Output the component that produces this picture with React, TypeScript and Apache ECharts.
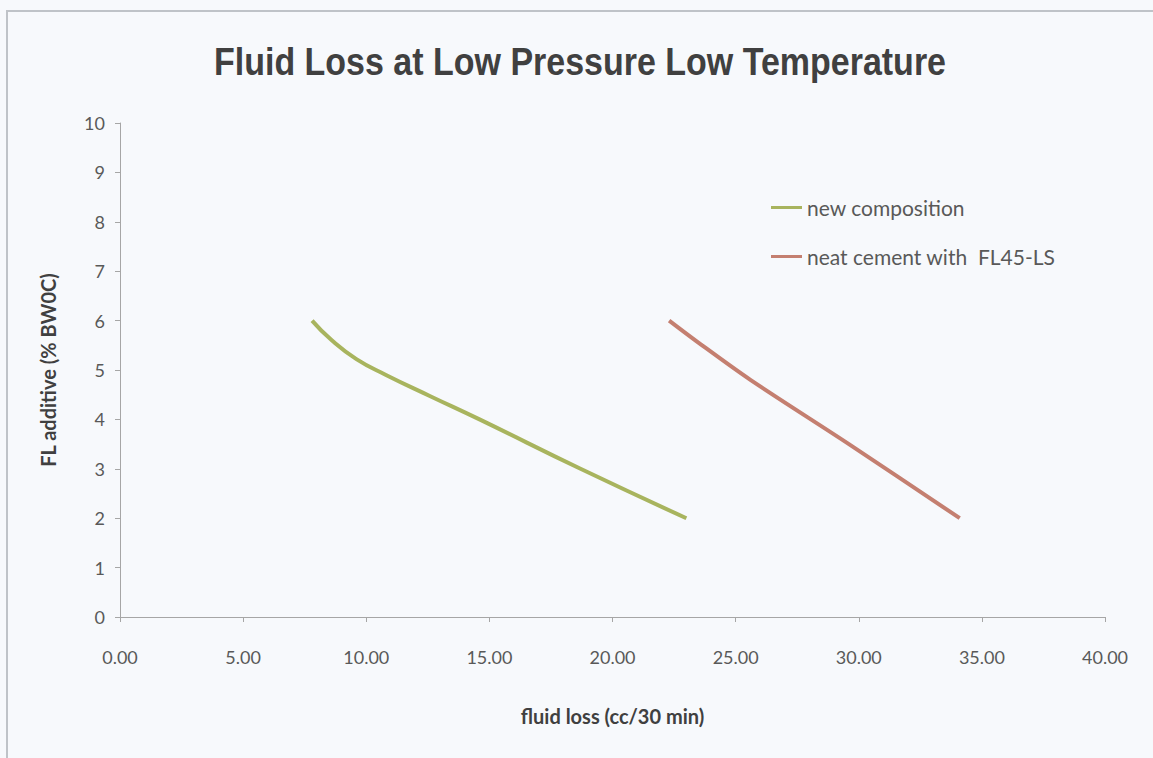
import React, { useEffect, useRef } from "react";
import * as echarts from "echarts";

const titleText = "Fluid Loss at Low Pressure Low Temperature";
const xAxisName = "fluid loss (cc/30 min)";
const yAxisName = "FL additive (% BW0C)";
const seriesNames = ["new composition", "neat cement with  FL45-LS"];
const newCompositionX = [7.8, 8.6, 9.6, 10.8, 12.6, 14.6, 18.7, 23.0];
const newCompositionY = [6, 5.6, 5.22, 4.9, 4.47, 4, 3, 2];
const neatCementX = [22.3, 23.5, 25.6, 29.6, 34.1];
const neatCementY = [6, 5.55, 4.8, 3.5, 2];
const colors = ["#a8b45e", "#c47f70"];

export default function App() {
  const ref = useRef<HTMLDivElement>(null);
  useEffect(() => {
    if (!ref.current) return;
    const chart = echarts.init(ref.current, null, { renderer: "svg" });
    const lbl = { fontFamily: "Lato", fontSize: 18, color: "#595959" };
    chart.setOption({
      animation: false,
      backgroundColor: "#f7f9fc",
      graphic: [
        {
          type: "rect",
          shape: { x: 7, y: 11, width: 1200, height: 800 },
          style: { fill: "none", stroke: "#bfc3c8", lineWidth: 2 },
          z: 0,
        },
        {
          type: "text",
          x: 580,
          y: 62,
          scaleY: 1.12,
          style: {
            text: titleText,
            fontFamily: "Liberation Sans",
            fontWeight: "bold",
            fontSize: 34,
            fill: "#404040",
            align: "center",
            verticalAlign: "middle",
          },
        },
      ],
      legend: {
        orient: "vertical",
        left: 766,
        top: 192,
        itemGap: 28,
        itemWidth: 31,
        itemHeight: 3,
        icon: "rect",
        textStyle: { fontFamily: "Lato", fontSize: 21, color: "#595959" },
        data: seriesNames,
      },
      grid: { left: 120, right: 48, top: 123, bottom: 141 },
      xAxis: {
        type: "value",
        min: 0,
        max: 40,
        interval: 5,
        name: xAxisName,
        nameLocation: "middle",
        nameGap: 89,
        nameTextStyle: { fontFamily: "Lato", fontWeight: "bold", fontSize: 20, color: "#404040" },
        axisLine: { show: true, lineStyle: { color: "#a6a6a6" } },
        axisTick: { show: true, length: 5, lineStyle: { color: "#a6a6a6" } },
        splitLine: { show: false },
        axisLabel: { ...lbl, margin: 31, formatter: (v: number) => v.toFixed(2) },
      },
      yAxis: {
        type: "value",
        min: 0,
        max: 10,
        interval: 1,
        name: yAxisName,
        nameLocation: "middle",
        nameGap: 62,
        nameTextStyle: { fontFamily: "Lato", fontWeight: "bold", fontSize: 20, color: "#404040" },
        axisLine: { show: true, lineStyle: { color: "#a6a6a6" } },
        axisTick: { show: true, length: 5, lineStyle: { color: "#a6a6a6" } },
        splitLine: { show: false },
        axisLabel: { ...lbl, margin: 15 },
      },
      series: [
        {
          name: seriesNames[0],
          type: "line",
          smooth: 0.5,
          symbol: "none",
          lineStyle: { width: 4, color: colors[0] },
          itemStyle: { color: colors[0] },
          data: newCompositionX.map((x, i) => [x, newCompositionY[i]]),
        },
        {
          name: seriesNames[1],
          type: "line",
          smooth: 0.3,
          symbol: "none",
          lineStyle: { width: 4, color: colors[1] },
          itemStyle: { color: colors[1] },
          data: neatCementX.map((x, i) => [x, neatCementY[i]]),
        },
      ],
    });
    return () => chart.dispose();
  }, []);
  return (
    <div
      ref={ref}
      style={{ position: "fixed", left: 0, top: 0, width: 1153, height: 758 }}
    />
  );
}
